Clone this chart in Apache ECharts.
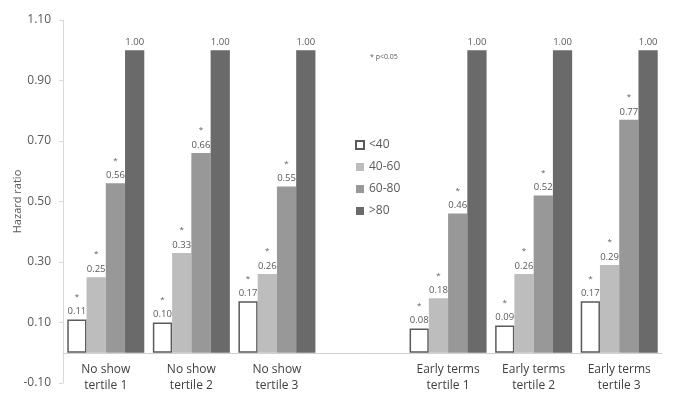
<!DOCTYPE html>
<html>
<head>
<meta charset="utf-8">
<script src="https://cdn.jsdelivr.net/npm/echarts@6/dist/echarts.min.js"></script>
<style>
html,body{margin:0;padding:0;background:#fff;}
#chart{width:674px;height:396px;}
</style>
</head>
<body>
<div id="chart"></div>
<script>
var categories = ['No show\ntertile 1', 'No show\ntertile 2', 'No show\ntertile 3', '', 'Early terms\ntertile 1', 'Early terms\ntertile 2', 'Early terms\ntertile 3'];
var seriesNames = ['<40', '40-60', '60-80', '>80'];
var under40 = [0.11, 0.10, 0.17, null, 0.08, 0.09, 0.17];
var from40to60 = [0.25, 0.33, 0.26, null, 0.18, 0.26, 0.29];
var from60to80 = [0.56, 0.66, 0.55, null, 0.46, 0.52, 0.77];
var over80 = [1.00, 1.00, 1.00, null, 1.00, 1.00, 1.00];
var significant = [true, true, true, false];
var yTickLabels = ['-0.10', '0.10', '0.30', '0.50', '0.70', '0.90', '1.10'];
var noteText = '* p<0.05';

var values = [under40, from40to60, from60to80, over80];
var colors = ['#ffffff', '#bdbdbd', '#989898', '#6a6a6a'];

var chart = echarts.init(document.getElementById('chart'));
var series = values.map(function (arr, i) {
  return {
    name: seriesNames[i],
    type: 'bar',
    yAxisIndex: 0,
    data: arr,
    barGap: '0%',
    barCategoryGap: '10%',
    itemStyle: i === 0 ? { color: '#ffffff', borderColor: '#5a5a5a', borderWidth: 1.5 } : { color: colors[i] },
    label: {
      show: true,
      position: 'top',
      distance: 2,
      formatter: function (p) {
        var v = p.value.toFixed(2);
        return significant[i] ? '{s|*}\n{v|' + v + '}' : '{v|' + v + '}';
      },
      rich: {
        s: { fontSize: 8, color: '#595959', lineHeight: 18, fontFamily: 'Open Sans' },
        v: { fontSize: 9.5, color: '#595959', lineHeight: 12, fontFamily: 'Open Sans' }
      }
    },
    emphasis: { disabled: true }
  };
});

chart.setOption({
  animation: false,
  textStyle: { fontFamily: 'Open Sans' },
  grid: { left: 63, right: 12, top: 20, bottom: 13, containLabel: false, outerBoundsMode: 'none' },
  legend: {
    orient: 'vertical',
    left: 350,
    top: 134,
    itemWidth: 8,
    itemHeight: 8,
    itemGap: 10,
    icon: 'rect',
    data: seriesNames,
    textStyle: { fontSize: 12, color: '#595959', fontFamily: 'Open Sans' }
  },
  xAxis: {
    type: 'category',
    data: categories,
    offset: -30,
    axisLine: { onZero: false, lineStyle: { color: '#d0d0d0', width: 1 } },
    axisTick: { show: false },
    axisLabel: { color: '#404040', fontSize: 12, lineHeight: 16, margin: 9, interval: 0, fontFamily: 'Open Sans' }
  },
  yAxis: [
    {
      type: 'value',
      min: -0.1,
      max: 1.1,
      name: 'Hazard ratio',
      nameLocation: 'middle',
      nameGap: 40,
      nameRotate: 90,
      nameTextStyle: { color: '#595959', fontSize: 11, fontFamily: 'Open Sans' },
      axisLine: { show: false },
      axisTick: { show: false },
      axisLabel: { show: false },
      splitLine: { show: false }
    },
    {
      type: 'category',
      data: yTickLabels,
      boundaryGap: false,
      position: 'left',
      axisLine: { show: true, lineStyle: { color: '#d9d9d9' } },
      axisTick: { show: true, length: 4, lineStyle: { color: '#d9d9d9' } },
      axisLabel: { color: '#595959', fontSize: 12, margin: 12, fontFamily: 'Open Sans' },
      splitLine: { show: false }
    }
  ],
  graphic: [
    { type: 'text', left: 370, top: 53, style: { text: noteText, fontSize: 7, fill: '#595959', fontFamily: 'Open Sans' } }
  ],
  series: series
});
</script>
</body>
</html>
